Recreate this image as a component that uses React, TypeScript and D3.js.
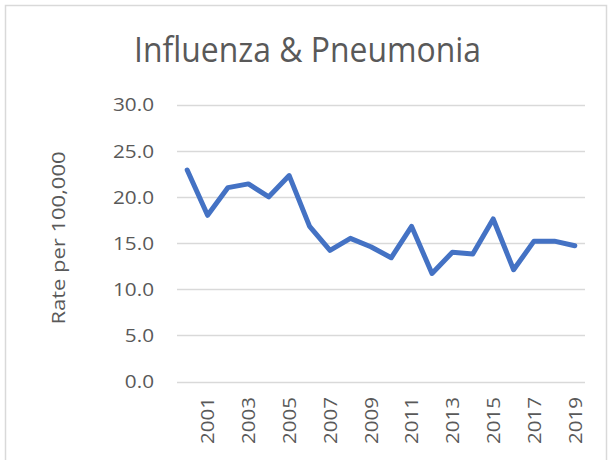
import React, { useRef, useEffect } from "react";
import * as d3 from "d3";

const years = [
  2000, 2001, 2002, 2003, 2004, 2005, 2006, 2007, 2008, 2009,
  2010, 2011, 2012, 2013, 2014, 2015, 2016, 2017, 2018, 2019,
];
const rates = [
  22.9, 18.0, 21.0, 21.4, 20.0, 22.3, 16.8, 14.2, 15.5, 14.6,
  13.4, 16.8, 11.7, 14.0, 13.8, 17.6, 12.1, 15.2, 15.2, 14.7,
];
const yTicks = [0, 5, 10, 15, 20, 25, 30];
const labelYears = [2001, 2003, 2005, 2007, 2009, 2011, 2013, 2015, 2017, 2019];

const FONT = "'Open Sans', sans-serif";
const GREY = "#595959";

// stretch text horizontally so that a reference string reaches the wanted width
function fitWidth(sel: d3.Selection<SVGTextElement, any, any, any>, factor: number) {
  sel.each(function () {
    const w = this.getComputedTextLength();
    this.setAttribute("textLength", String(w * factor));
    this.setAttribute("lengthAdjust", "spacingAndGlyphs");
  });
}

export default function App() {
  const svgRef = useRef<SVGSVGElement>(null);
  const width = 608;
  const height = 460;

  useEffect(() => {
    if (!svgRef.current) return;
    const svg = d3.select(svgRef.current);
    svg.selectAll("*").remove();

    // chart border
    svg
      .append("rect")
      .attr("x", 5.5)
      .attr("y", 5.5)
      .attr("width", 601)
      .attr("height", 470)
      .attr("fill", "#fff")
      .attr("stroke", "#d9d9d9")
      .attr("stroke-width", 1.5);

    const left = 177;
    const right = 585;
    const top = 104.5;
    const bottom = 381.5;

    const x = d3.scaleBand<number>().domain(years).range([left, right]);
    const y = d3.scaleLinear().domain([0, 30]).range([bottom, top]);

    // title
    const title = svg
      .append("text")
      .attr("x", 307.5)
      .attr("y", 62)
      .attr("text-anchor", "middle")
      .style("font-family", FONT)
      .style("font-size", "35px")
      .style("fill", GREY)
      .text("Influenza & Pneumonia");
    fitWidth(title, 347 / (title.node() as SVGTextElement).getComputedTextLength());

    // gridlines
    svg
      .append("g")
      .selectAll("line")
      .data(yTicks)
      .join("line")
      .attr("x1", left)
      .attr("x2", right)
      .attr("y1", (d) => Math.round(y(d)) + 0.5)
      .attr("y2", (d) => Math.round(y(d)) + 0.5)
      .attr("stroke", "#d9d9d9")
      .attr("stroke-width", 1.3);

    // y tick labels
    const yLabels = svg
      .append("g")
      .selectAll<SVGTextElement, number>("text")
      .data(yTicks)
      .join("text")
      .attr("x", 154)
      .attr("y", (d) => y(d))
      .attr("dy", "0.36em")
      .attr("text-anchor", "end")
      .style("font-family", FONT)
      .style("font-size", "19px")
      .style("fill", GREY)
      .text((d) => d3.format(".1f")(d));
    const ref30 = yLabels.filter((d) => d === 30).node() as SVGTextElement;
    fitWidth(yLabels, 41 / ref30.getComputedTextLength());

    // y axis title
    const yTitle = svg
      .append("text")
      .attr("transform", `translate(58,238) rotate(-90)`)
      .attr("dy", "0.36em")
      .attr("text-anchor", "middle")
      .style("font-family", FONT)
      .style("font-size", "19px")
      .style("fill", GREY)
      .text("Rate per 100,000");
    fitWidth(yTitle, 173 / (yTitle.node() as SVGTextElement).getComputedTextLength());

    // x tick labels
    const xLabels = svg
      .append("g")
      .selectAll<SVGTextElement, number>("text")
      .data(labelYears)
      .join("text")
      .attr(
        "transform",
        (d) => `translate(${(x(d) ?? 0) + x.bandwidth() / 2},397) rotate(-90)`
      )
      .attr("dy", "0.36em")
      .attr("text-anchor", "end")
      .style("font-family", FONT)
      .style("font-size", "19px")
      .style("fill", GREY)
      .text((d) => String(d));
    fitWidth(xLabels, 47 / (xLabels.node() as SVGTextElement).getComputedTextLength());

    // line
    const line = d3
      .line<number>()
      .x((_, i) => (x(years[i]) ?? 0) + x.bandwidth() / 2)
      .y((d) => y(d));

    svg
      .append("path")
      .datum(rates)
      .attr("d", line)
      .attr("fill", "none")
      .attr("stroke", "#4472c4")
      .attr("stroke-width", 5)
      .attr("stroke-linejoin", "round")
      .attr("stroke-linecap", "round");
  }, []);

  return (
    <svg
      ref={svgRef}
      width={width}
      height={height}
      style={{ position: "absolute", left: 0, top: 0 }}
      viewBox={`0 0 ${width} ${height}`}
    />
  );
}
